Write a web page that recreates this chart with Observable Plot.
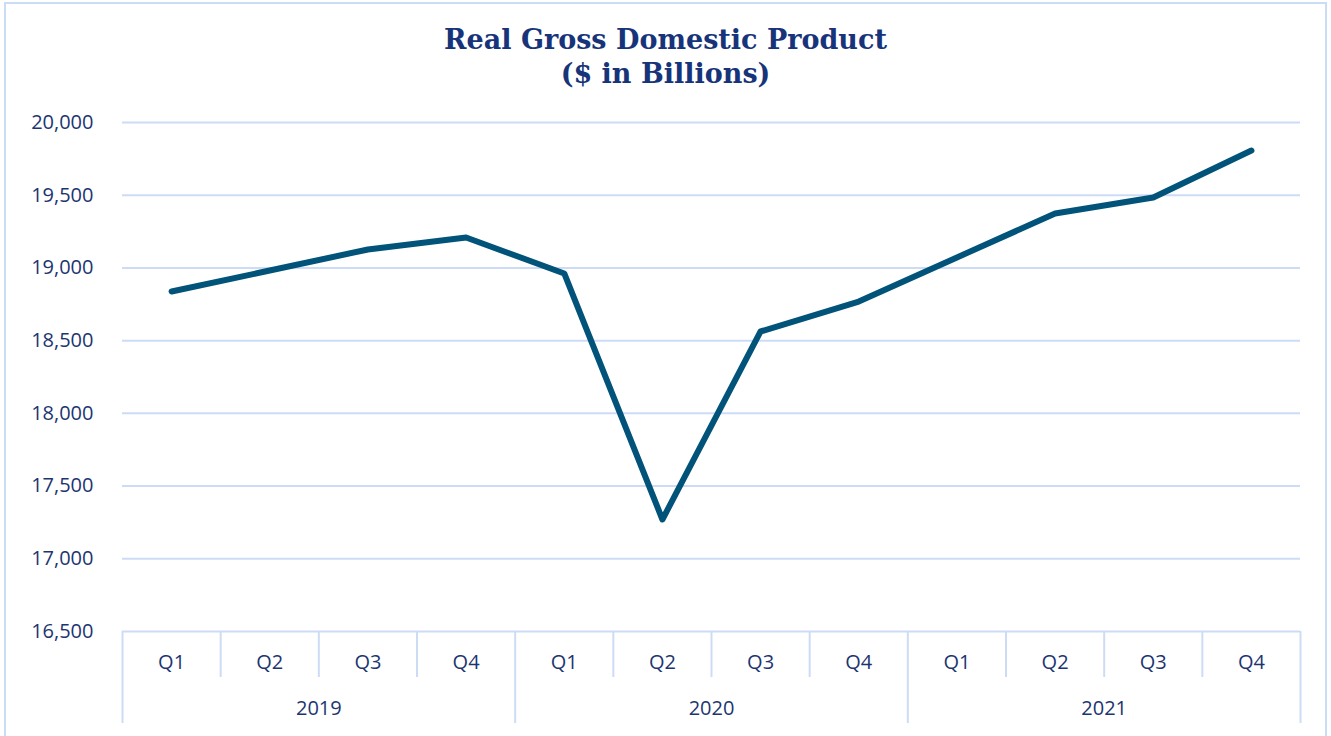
<!DOCTYPE html>
<html>
<head>
<meta charset="utf-8">
<script src="https://cdn.jsdelivr.net/npm/d3@7"></script>
<script src="https://cdn.jsdelivr.net/npm/@observablehq/plot@0.6"></script>
<style>
  html, body { margin: 0; padding: 0; background: #fff; }
  #wrap { position: relative; width: 1331px; height: 736px; overflow: hidden; }
  #border { position: absolute; left: 4px; top: 2px; width: 1323px; height: 760px; border: 2px solid #cbdcf7; box-sizing: border-box; }
  #title { position: absolute; left: 0; top: 23px; width: 1331px; text-align: center;
           font-family: "DejaVu Serif", serif; font-weight: bold; font-size: 27px; line-height: 34px; color: #17347a; }
  #chart { position: absolute; left: 0; top: 0; }
</style>
</head>
<body>
<div id="wrap">
  <div id="border"></div>
  <div id="title">Real Gross Domestic Product<br>($ in Billions)</div>
  <div id="chart"></div>
</div>
<script>
const years = ["2019", "2020", "2021"];
const quarters = ["Q1", "Q2", "Q3", "Q4"];
const gdp = [18838, 18982, 19127, 19209, 18962, 17270, 18563, 18769, 19072, 19374, 19484, 19807];
const yTicks = [16500, 17000, 17500, 18000, 18500, 19000, 19500, 20000];

const rows = gdp.map((v, i) => ({pos: i + 0.5, q: quarters[i % quarters.length], year: years[Math.floor(i / quarters.length)], v}));
const yearRows = years.map((y, k) => ({pos: (k + 0.5) * quarters.length, year: y}));
const bounds = d3.range(0, gdp.length + 1);
const yearBounds = bounds.filter(b => b % quarters.length === 0);
const qBounds = bounds.filter(b => b % quarters.length !== 0);
const ymin = yTicks[0];

const grid = "#cddcf6";
const textColor = "#1c3571";

const plot = Plot.plot({
  width: 1331,
  height: 736,
  marginTop: 122,
  marginBottom: 105,
  marginLeft: 122,
  marginRight: 31,
  style: {fontFamily: "'Open Sans', sans-serif", fontSize: "20px", color: textColor, background: "transparent", overflow: "visible"},
  x: {domain: [0, gdp.length], axis: null},
  y: {domain: [yTicks[0], yTicks[yTicks.length - 1]], axis: null},
  marks: [
    Plot.ruleY(yTicks, {stroke: grid, strokeWidth: 2}),
    Plot.ruleX(qBounds, {x: d => d, y1: ymin, y2: ymin, insetBottom: -46, stroke: grid, strokeWidth: 2}),
    Plot.ruleX(yearBounds, {x: d => d, y1: ymin, y2: ymin, insetBottom: -92, stroke: grid, strokeWidth: 2}),
    Plot.axisY({ticks: yTicks, tickSize: 0, tickPadding: 29, tickFormat: d3.format(","), label: null, fill: textColor, fontSize: 20}),
    Plot.text(rows, {x: "pos", text: "q", frameAnchor: "bottom", dy: 31, lineAnchor: "middle", fill: textColor, fontSize: 20}),
    Plot.text(yearRows, {x: "pos", text: "year", frameAnchor: "bottom", dy: 77, lineAnchor: "middle", fill: textColor, fontSize: 20}),
    Plot.line(rows, {x: "pos", y: "v", stroke: "#02537a", strokeWidth: 6, strokeLinecap: "round", strokeLinejoin: "round"})
  ]
});
document.getElementById("chart").appendChild(plot);
</script>
</body>
</html>
